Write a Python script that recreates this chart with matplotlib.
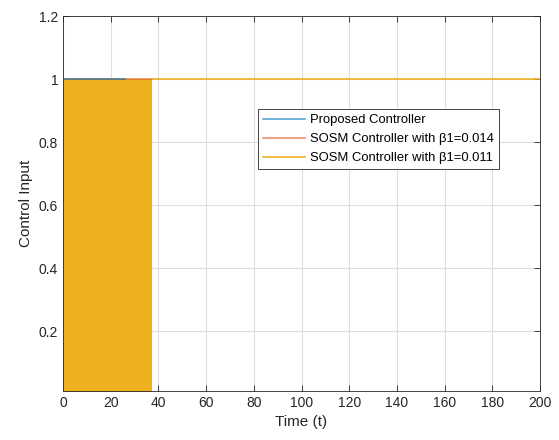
import matplotlib
matplotlib.use("Agg")
import matplotlib.pyplot as plt
import numpy as np

# data
t_proposed = [0, 26]
u_proposed = [1, 1]
t_sosm014 = [0, 37.3]
u_sosm014 = [1, 1]
t_chatter = [0, 37.3]          # SOSM beta1=0.011 chattering band
u_chatter_low = [0, 0]
u_chatter_high = [1, 1]
t_sosm011 = [37.3, 200]
u_sosm011 = [1, 1]

labels = ["Proposed Controller",
          "SOSM Controller with \u03b21=0.014",
          "SOSM Controller with \u03b21=0.011"]
colors = ["#0072BD", "#D95319", "#EDB120"]

plt.rcParams['font.family'] = ['Liberation Sans', 'DejaVu Sans']
axc = "#262626"

fig = plt.figure(figsize=(5.59, 4.40), dpi=100)
ax = fig.add_axes([63/559, 1 - 391/440, 477/559, 375/440])

ax.grid(True, color="#dedede", linewidth=0.8)
ax.set_axisbelow(True)

ax.fill_between(t_chatter, u_chatter_low, u_chatter_high, color=colors[2],
                linewidth=0, zorder=2)
l1, = ax.plot(t_proposed, u_proposed, color=colors[0], lw=1.1, alpha=0.7, zorder=3)
l2, = ax.plot(t_sosm014, u_sosm014, color=colors[1], lw=1.1, alpha=0.7, zorder=2.5)
l3, = ax.plot(t_sosm011, u_sosm011, color=colors[2], lw=1.2, zorder=3)

ax.set_xlim(0, 200)
ax.set_ylim(0.01, 1.2)
ax.set_xticks(np.arange(0, 201, 20))
ax.set_yticks([0.2, 0.4, 0.6, 0.8, 1.0, 1.2])
ax.set_yticklabels(["0.2", "0.4", "0.6", "0.8", "1", "1.2"])
ax.tick_params(direction="in", top=True, right=True, length=4,
               colors=axc, labelsize=10, width=0.6)
for s in ax.spines.values():
    s.set_color(axc)
    s.set_linewidth(0.6)

ax.set_xlabel("Time (t)", fontsize=11, color=axc)
ax.set_ylabel("Control Input", fontsize=11, color=axc)

leg = ax.legend([l1, l2, l3], labels, loc="upper left",
                bbox_to_anchor=(0.409, 0.752), fontsize=9.4,
                fancybox=False, framealpha=1, edgecolor=axc,
                handlelength=3.2, borderpad=0.4, labelspacing=0.52,
                handletextpad=0.4, borderaxespad=0)
leg.get_frame().set_linewidth(0.6)

fig.savefig("out.png", dpi=100)
